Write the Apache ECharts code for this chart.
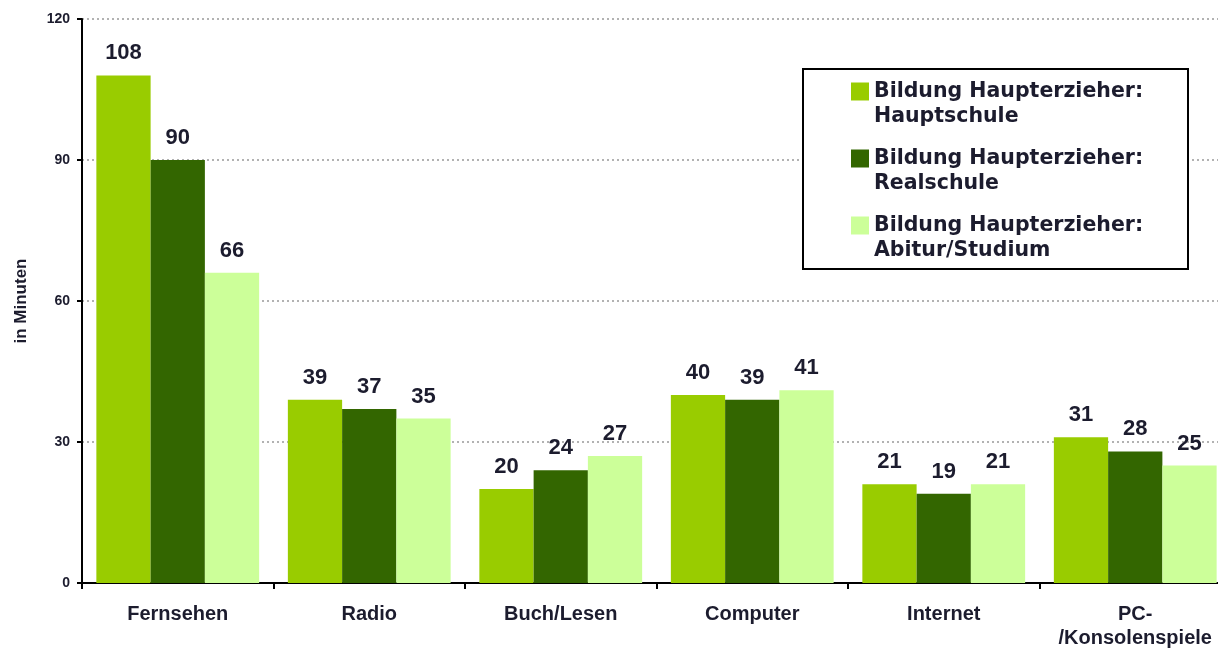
<!DOCTYPE html>
<html>
<head>
<meta charset="utf-8">
<script src="https://cdn.jsdelivr.net/npm/echarts@6/dist/echarts.min.js"></script>
<style>
  html, body { margin: 0; padding: 0; background: #fff; }
  #chart { width: 1218px; height: 651px; }
</style>
</head>
<body>
<div id="chart"></div>
<script>
// Mediennutzung in Minuten nach Bildung des Haupterziehers
var categories = ['Fernsehen', 'Radio', 'Buch/Lesen', 'Computer', 'Internet', 'PC-\n/Konsolenspiele'];
var seriesNames = [
    'Bildung Haupterzieher:\nHauptschule',
    'Bildung Haupterzieher:\nRealschule',
    'Bildung Haupterzieher:\nAbitur/Studium'
];
var hauptschule = [108, 39, 20, 40, 21, 31];
var realschule = [90, 37, 24, 39, 19, 28];
var abitur = [66, 35, 27, 41, 21, 25];
var yTicks = [0, 30, 60, 90, 120];

var colors = ['#99cc00', '#336600', '#ccff99'];
var textColor = '#1c1c2e';
var font = 'Liberation Sans, Arial, sans-serif';

var chart = echarts.init(document.getElementById('chart'));

function barSeries(name, data) {
    return {
        name: name,
        type: 'bar',
        data: data,
        barGap: '0%',
        barCategoryGap: '15%',
        label: {
            show: true,
            position: 'top',
            distance: 11,
            color: textColor,
            fontFamily: font,
            fontWeight: 'bold',
            fontSize: 22
        }
    };
}

chart.setOption({
    animation: false,
    color: colors,
    grid: {
        left: 82,
        right: -13,   // das original ist rechts abgeschnitten
        top: 19,
        bottom: 68,
        outerBoundsMode: 'none'
    },
    // rahmen der legende
    graphic: [{
        type: 'rect',
        shape: { x: 803, y: 69, width: 385, height: 200 },
        style: { fill: '#fff', stroke: '#000', lineWidth: 2 },
        z: 50
    }],
    legend: {
        orient: 'vertical',
        left: 851,
        top: 54,
        padding: 0,
        z: 60,
        data: seriesNames,
        // leere erste zeile, damit das kästchen neben der ersten textzeile steht
        formatter: function (name) { return '\n' + name; },
        itemWidth: 18,
        itemHeight: 18,
        itemGap: -8,
        icon: 'rect',
        textStyle: {
            color: textColor,
            fontFamily: 'DejaVu Sans',
            fontWeight: 'bold',
            fontSize: 20.5,
            lineHeight: 25
        }
    },
    xAxis: {
        type: 'category',
        data: categories,
        axisLine: { lineStyle: { color: '#000', width: 2 } },
        axisTick: { show: true, length: 6, lineStyle: { color: '#000', width: 2 } },
        axisLabel: {
            color: textColor,
            fontFamily: font,
            fontWeight: 'bold',
            fontSize: 20,
            margin: 19,
            lineHeight: 24,
            interval: 0
        }
    },
    yAxis: {
        type: 'value',
        min: yTicks[0],
        max: yTicks[yTicks.length - 1],
        interval: 30,
        name: 'in Minuten',
        nameLocation: 'middle',
        nameGap: 52,
        nameTextStyle: {
            color: textColor,
            fontFamily: font,
            fontWeight: 'bold',
            fontSize: 17
        },
        axisLine: { show: true, lineStyle: { color: '#000', width: 2 } },
        axisTick: { show: true, length: 5, lineStyle: { color: '#000', width: 2 } },
        axisLabel: {
            color: textColor,
            fontFamily: font,
            fontWeight: 'bold',
            fontSize: 14,
            margin: 12
        },
        splitLine: {
            show: true,
            lineStyle: { color: '#999', type: [2, 3], width: 1.5 }
        }
    },
    series: [
        barSeries(seriesNames[0], hauptschule),
        barSeries(seriesNames[1], realschule),
        barSeries(seriesNames[2], abitur)
    ]
});
</script>
</body>
</html>
